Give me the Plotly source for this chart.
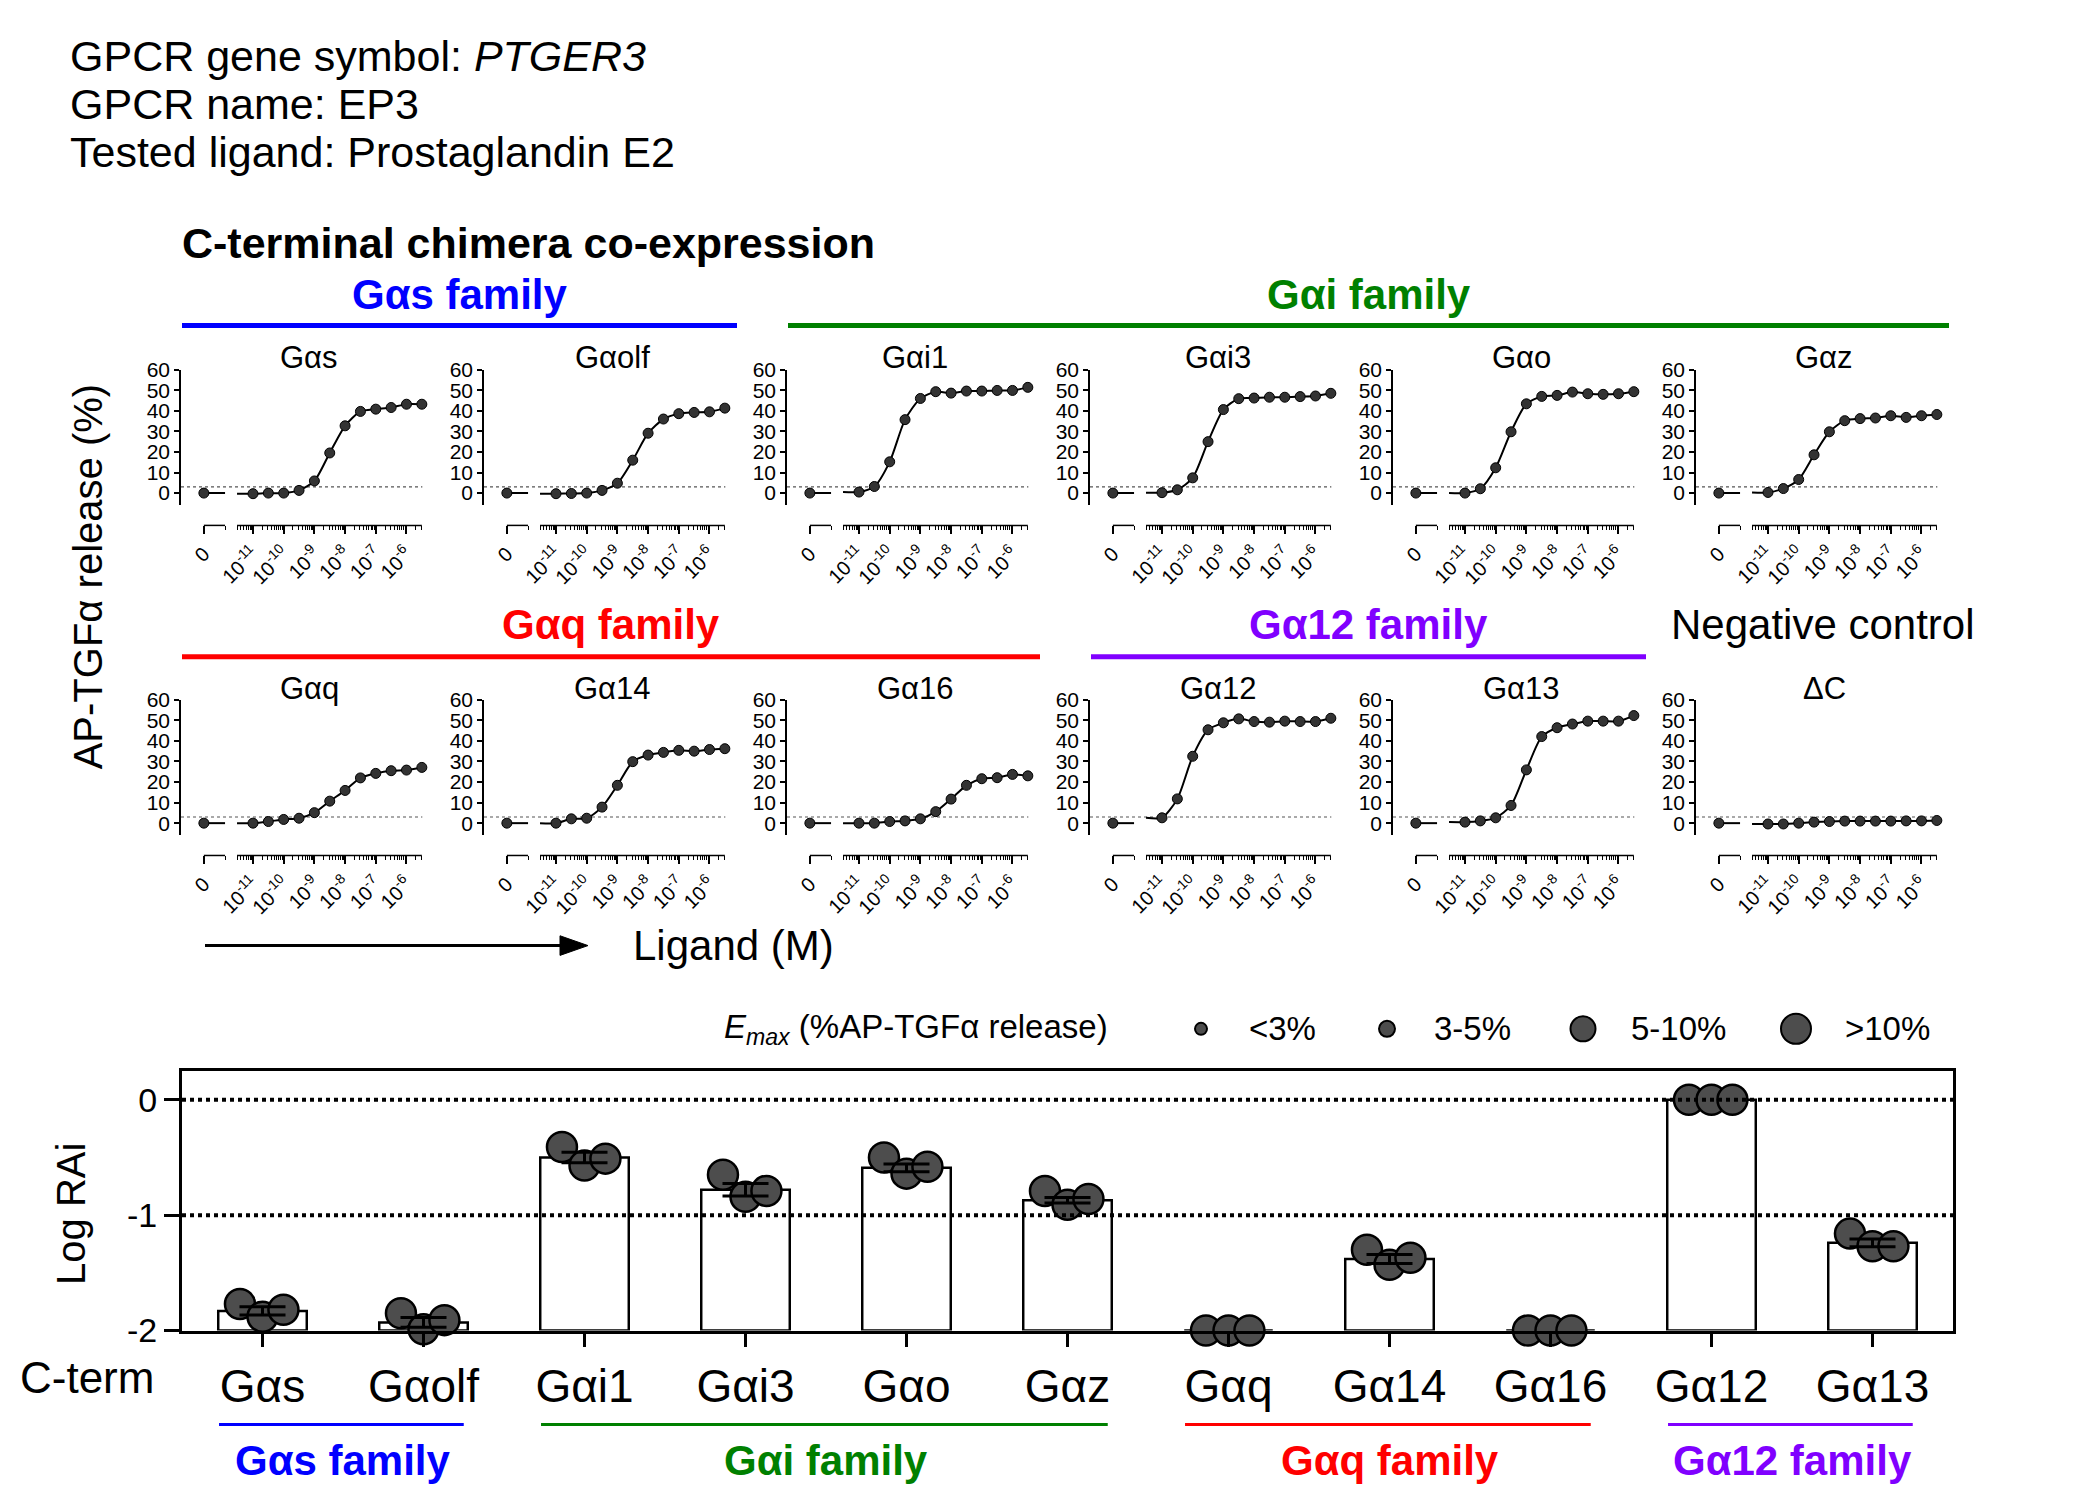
import math
import plotly.graph_objects as go

W, H = 2100, 1509
def px(x): return x / W
def py(y): return 1 - y / H

FONT = "Liberation Sans, Arial, sans-serif"

# ---------------- data ----------------
header_lines = ["GPCR gene symbol: <i>PTGER3</i>", "GPCR name: EP3", "Tested ligand: Prostaglandin E2"]

conc_log = [-11, -10.5, -10, -9.5, -9, -8.5, -8, -7.5, -7, -6.5, -6, -5.5]
zero_pos = -12.6
xtick_vals = [-12.6, -11, -10, -9, -8, -7, -6]
xtick_text = ["0", "10<sup>-11</sup>", "10<sup>-10</sup>", "10<sup>-9</sup>", "10<sup>-8</sup>",
              "10<sup>-7</sup>", "10<sup>-6</sup>"]

panel_names = ["Gαs", "Gαolf", "Gαi1", "Gαi3", "Gαo", "Gαz",
               "Gαq", "Gα14", "Gα16", "Gα12", "Gα13", "ΔC"]
zero_resp = [0, 0, 0, 0, 0, 0, 0, 0, 0, 0, 0, 0]
resp_Gas = [-0.3, 0.0, 0.0, 1.3, 5.9, 19.5, 32.7, 39.7, 40.8, 41.6, 43.2, 43.2]
resp_Gaolf = [-0.3, -0.2, 0.0, 1.3, 4.8, 16.0, 29.1, 36.0, 38.6, 39.2, 39.5, 41.3]
resp_Gai1 = [0.5, 3.2, 15.2, 35.7, 46.0, 49.3, 48.6, 49.6, 49.6, 49.9, 49.9, 51.4]
resp_Gai3 = [0.2, 1.6, 7.4, 25.0, 40.6, 45.9, 46.2, 46.6, 46.6, 46.9, 47.2, 48.5]
resp_Gao = [0.0, 2.1, 12.3, 29.8, 43.4, 47.0, 47.5, 49.1, 48.3, 48.0, 48.3, 49.3]
resp_Gaz = [0.3, 2.2, 6.6, 18.6, 29.8, 35.2, 36.2, 36.5, 37.6, 36.8, 37.6, 38.2]
resp_Gaq = [0.0, 0.8, 1.8, 2.4, 5.1, 10.7, 15.9, 22.0, 24.2, 25.5, 25.8, 27.1]
resp_Ga14 = [0.0, 2.1, 2.4, 7.8, 18.4, 29.9, 33.1, 34.4, 35.4, 35.0, 35.8, 36.2]
resp_Ga16 = [0.0, 0.0, 0.8, 1.1, 2.1, 5.6, 11.7, 18.4, 21.6, 22.1, 23.7, 23.0]
resp_Ga12 = [2.6, 11.8, 32.5, 45.4, 48.8, 50.7, 49.4, 49.1, 49.6, 49.4, 49.4, 51.0]
resp_Ga13 = [0.5, 1.1, 2.6, 8.6, 25.9, 42.1, 46.4, 48.2, 49.6, 49.6, 49.6, 52.3]
resp_dC = [-0.4, -0.4, 0.0, 0.5, 0.8, 1.0, 1.0, 1.0, 1.0, 1.1, 1.1, 1.3]
responses = [resp_Gas, resp_Gaolf, resp_Gai1, resp_Gai3, resp_Gao, resp_Gaz,
             resp_Gaq, resp_Ga14, resp_Ga16, resp_Ga12, resp_Ga13, resp_dC]

# bottom chart: log RAi
cterm = ["Gαs", "Gαolf", "Gαi1", "Gαi3", "Gαo", "Gαz", "Gαq", "Gα14", "Gα16", "Gα12", "Gα13"]
rai_mean = [-1.83, -1.93, -0.50, -0.78, -0.59, -0.87, -2.0, -1.38, -2.0, 0.0, -1.24]
rai_sem = [0.035, 0.042, 0.045, 0.054, 0.034, 0.024, None, 0.038, None, None, 0.034]
rai_rep1 = [-1.77, -1.85, -0.41, -0.65, -0.50, -0.79, -2.0, -1.30, -2.0, 0.0, -1.16]
rai_rep2 = [-1.88, -1.99, -0.57, -0.84, -0.64, -0.91, -2.0, -1.43, -2.0, 0.0, -1.27]
rai_rep3 = [-1.82, -1.91, -0.51, -0.79, -0.58, -0.86, -2.0, -1.37, -2.0, 0.0, -1.27]

families = [("Gαs family", "#0000FF", 0, 1), ("Gαi family", "#008000", 2, 5),
            ("Gαq family", "#FF0000", 6, 8), ("Gα12 family", "#8000FF", 9, 10)]

emax_labels = ["<3%", "3-5%", "5-10%", ">10%"]

# ---------------- layout geometry ----------------
col_axis_x = [173, 476, 779, 1082, 1385, 1688]
row_top = [357, 694]
row_zero = [483, 820]
row_xaxis = [516, 853]
panel_w = 245
xr = [-13.345, -13.345 + panel_w / 30.7]
yr = [-5.7, 60]
ppu = (row_zero[0] - row_top[0]) / 60.0

fig = go.Figure()
layout = dict(width=W, height=H, margin=dict(l=0, r=0, t=0, b=0),
              plot_bgcolor="white", paper_bgcolor="white", showlegend=False,
              font=dict(family=FONT, color="black"))
shapes = []
annotations = []

def note(text, x, y, size, color="black", xanchor="center", xref="paper", angle=0):
    annotations.append(dict(text=text, x=x, y=y, xref=xref, yref="paper", xanchor=xanchor,
                            yanchor="middle", showarrow=False, textangle=angle,
                            font=dict(size=size, color=color, family=FONT)))

minor_vals = [-11.91, -11.52, -5.5]
for d in range(-12, -5):
    for k in range(2, 10):
        v = d + math.log10(k)
        if -11.52 < v < -5.5:
            minor_vals.append(v)

for i, (name, resp) in enumerate(zip(panel_names, responses)):
    r, c = divmod(i, 6)
    ax = col_axis_x[c]
    n = i + 1
    xa = "xaxis" if n == 1 else f"xaxis{n}"
    ya = "yaxis" if n == 1 else f"yaxis{n}"
    xr_id = "x" if n == 1 else f"x{n}"
    yr_id = "y" if n == 1 else f"y{n}"
    ybot = row_zero[r] - yr[0] * ppu
    layout[xa] = dict(domain=[px(ax), px(ax + panel_w)], range=xr, anchor="free",
                      position=py(row_xaxis[r]), showline=False, showgrid=False, zeroline=False,
                      tickmode="array", tickvals=xtick_vals, ticktext=xtick_text,
                      ticks="outside", ticklen=8, tickwidth=1.5, tickcolor="black",
                      tickangle=-45, tickfont=dict(size=20, family=FONT),
                      minor=dict(tickmode="array", tickvals=minor_vals, ticks="outside",
                                 ticklen=4, tickwidth=1.2, tickcolor="black"))
    layout[ya] = dict(domain=[py(ybot), py(row_top[r])], range=yr, anchor=xr_id,
                      showline=True, linewidth=1.5, linecolor="black", showgrid=False,
                      zeroline=False, tickmode="array", tickvals=[0, 10, 20, 30, 40, 50, 60],
                      ticks="outside", ticklen=5, tickwidth=1.5, tickcolor="black",
                      tickfont=dict(size=21, family=FONT))
    # broken x-axis line
    shapes.append(dict(type="line", xref=xr_id, yref="paper", x0=zero_pos, x1=-11.91,
                       y0=py(row_xaxis[r]), y1=py(row_xaxis[r]), line=dict(color="black", width=1.5)))
    shapes.append(dict(type="line", xref=xr_id, yref="paper", x0=-11.52, x1=conc_log[-1],
                       y0=py(row_xaxis[r]), y1=py(row_xaxis[r]), line=dict(color="black", width=1.5)))
    # 3% threshold
    shapes.append(dict(type="line", xref=xr_id + " domain", yref=yr_id, x0=0, x1=0.985,
                       y0=3, y1=3, line=dict(color="#555555", width=1.2, dash="dot"), layer="below"))
    # zero-concentration segment
    fig.add_trace(go.Scatter(x=[zero_pos, -11.91], y=[zero_resp[i], zero_resp[i]], mode="lines",
                             line=dict(color="black", width=2), xaxis=xr_id, yaxis=yr_id,
                             hoverinfo="skip"))
    # curve through points
    fig.add_trace(go.Scatter(x=[-11.52] + conc_log, y=[resp[0]] + resp, mode="lines",
                             line=dict(color="black", width=2, shape="spline", smoothing=0.7),
                             xaxis=xr_id, yaxis=yr_id, hoverinfo="skip"))
    fig.add_trace(go.Scatter(x=[zero_pos] + conc_log, y=[zero_resp[i]] + resp, mode="markers",
                             marker=dict(size=10, color="#333333", line=dict(color="black", width=1)),
                             xaxis=xr_id, yaxis=yr_id, cliponaxis=False))
    title_y = [345, 683][r]
    note(name, px(ax + 128), py(title_y), 31)

# family lines top
top_fams = [("Gαs family", "#0000FF", 0, 0, 1, 280, 312),
            ("Gαi family", "#008000", 0, 2, 5, 280, 312),
            ("Gαq family", "#FF0000", 1, 0, 2, 617, 650),
            ("Gα12 family", "#8000FF", 1, 3, 4, 617, 650)]
for name, col, r, c0, c1, ty, ly in top_fams:
    x0 = col_axis_x[c0] + 1
    x1 = col_axis_x[c1] + 253
    shapes.append(dict(type="line", xref="paper", yref="paper", x0=px(x0), x1=px(x1),
                       y0=py(ly), y1=py(ly), line=dict(color=col, width=5)))
    note(f"<b>{name}</b>", px((x0 + x1) / 2), py(ty), 42, col)
note("Negative control", px(1815), py(617), 42)

# header
for k, t in enumerate(header_lines):
    note(t, px(60), py(37 + 49 * k), 43, xanchor="left")
note("<b>C-terminal chimera co-expression</b>", px(172), py(228), 43, xanchor="left")
note("AP-TGFα release (%)", px(80), py(569), 40, angle=-90)
# arrow (line + triangular head)
shapes.append(dict(type="line", xref="paper", yref="paper", x0=px(197), x1=px(560),
                   y0=py(945), y1=py(945), line=dict(color="black", width=3)))
shapes.append(dict(type="path", xref="paper", yref="paper",
                   path=f"M {px(580)} {py(945)} L {px(552)} {py(935)} L {px(552)} {py(955)} Z",
                   fillcolor="black", line=dict(color="black", width=1)))
note("Ligand (M)", px(623), py(945), 42, xanchor="left")

# ---------------- bottom bar chart ----------------
bx, by = "x13", "y13"
idx = list(range(len(cterm)))
layout["xaxis13"] = dict(domain=[px(174), px(1945)], range=[-0.5, 10.5], anchor=by,
                         tickmode="array", tickvals=idx, ticktext=cterm, ticks="outside",
                         ticklen=13, tickwidth=3, tickcolor="black", showline=True, linewidth=3,
                         linecolor="black", mirror=True, showgrid=False, zeroline=False,
                         tickfont=dict(size=46, family=FONT))
layout["yaxis13"] = dict(domain=[py(1338), py(1073)], range=[-2, 0.25], anchor=bx,
                         tickmode="array", tickvals=[0, -1, -2], ticktext=["0", "-1", "-2"],
                         ticks="outside", ticklen=15, tickwidth=3, tickcolor="black",
                         showline=True, linewidth=3, linecolor="black", mirror=True,
                         showgrid=False, zeroline=False, tickfont=dict(size=34, family=FONT))
fig.add_trace(go.Bar(x=idx, y=[m + 2 for m in rai_mean], base=-2, width=0.55,
                     marker=dict(color="white", line=dict(color="black", width=2.5)),
                     xaxis=bx, yaxis=by))
for off, rep in zip([-0.14, 0.0, 0.13], [rai_rep1, rai_rep2, rai_rep3]):
    fig.add_trace(go.Scatter(x=[i + off for i in idx], y=rep, mode="markers", cliponaxis=False,
                             marker=dict(size=30, color="#4d4d4d", line=dict(color="black", width=2.5)),
                             xaxis=bx, yaxis=by))
fig.add_trace(go.Scatter(x=idx, y=[m if s is not None else None for m, s in zip(rai_mean, rai_sem)],
                         mode="markers", marker=dict(size=1, color="rgba(0,0,0,0)"),
                         error_y=dict(type="data", array=[s if s is not None else 0 for s in rai_sem],
                                      width=23, thickness=3, color="black"),
                         xaxis=bx, yaxis=by, cliponaxis=False))
for yv in [0, -1]:
    shapes.append(dict(type="line", xref="x13 domain", yref=by, x0=0, x1=1, y0=yv, y1=yv,
                       line=dict(color="black", width=4, dash="dot"), layer="above"))

note("C-term", px(79), py(1386), 44)
note("Log RAi", px(63), py(1219), 40, angle=-90)
for name, col, a, b in families:
    shapes.append(dict(type="line", xref=bx, yref="paper", x0=a - 0.27, x1=b + 0.25,
                       y0=py(1434), y1=py(1434), line=dict(color=col, width=3)))
    note(f"<b>{name}</b>", (a + b) / 2, py(1471), 42, col, xref=bx)

# Emax legend
note("<i>E</i><sub><i>max</i></sub> (%AP-TGFα release)", px(714), py(1030), 33, xanchor="left")
leg_x = [1193, 1379, 1575, 1788]
leg_d = [12, 16, 25, 30]
leg_lx = [1239, 1424, 1621, 1835]
for lx, d, tx, lab in zip(leg_x, leg_d, leg_lx, emax_labels):
    shapes.append(dict(type="circle", xref="paper", yref="paper", xsizemode="pixel", ysizemode="pixel",
                       xanchor=px(lx), yanchor=py(1030), x0=-d / 2, x1=d / 2, y0=-d / 2, y1=d / 2,
                       fillcolor="#4d4d4d", line=dict(color="black", width=2)))
    note(lab, px(tx), py(1030), 33, xanchor="left")

layout["shapes"] = shapes
layout["annotations"] = annotations
fig.update_layout(**layout)
fig.write_html("out.html")
